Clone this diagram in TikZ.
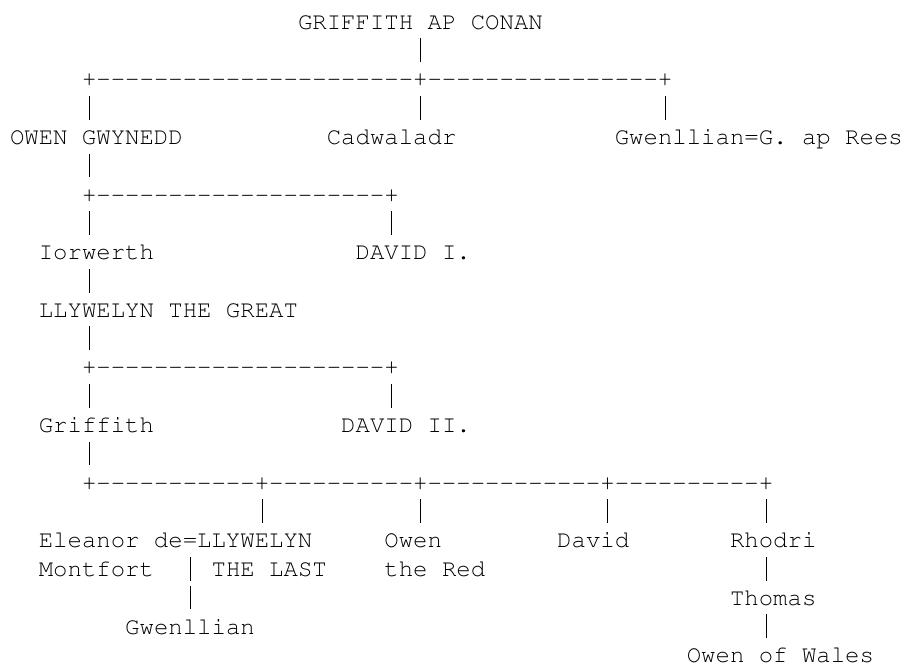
\documentclass[tikz,border=0pt]{standalone}
\usepackage[T1]{fontenc}
\usepackage{courier}
\ExplSyntaxOn
\NewDocumentCommand\dashrun{m}{\prg_replicate:nn{#1}{-{}}}
\ExplSyntaxOff
\newcommand\vbarglyph{\makebox[14.4pt]{\rule[-4pt]{0.85pt}{23.8pt}}}
\tikzset{
  txt/.style={anchor=base west, inner sep=0pt, outer sep=0pt, text depth=0pt,
    font=\ttfamily\fontsize{24pt}{28.8pt}\selectfont, text=black},
}
\begin{document}
\begin{tikzpicture}
\fill[white] (0,0) rectangle (906pt,-664pt);
\useasboundingbox (0,0) rectangle (906pt,-664pt);
\begin{scope}[shift={(10pt,-29.3pt)}, x=14.4pt, y=-28.8pt]
\node[txt] (gac) at (20,0) {GRIFFITH AP CONAN};
\node[txt] (v1) at (28,1) {\vbarglyph};
\node[txt] (h1) at (5,2) {+\dashrun{22}+\dashrun{16}+};
\node[txt] (v2a) at (5,3) {\vbarglyph};
\node[txt] (v2b) at (28,3) {\vbarglyph};
\node[txt] (v2c) at (45,3) {\vbarglyph};
\node[txt] (owen) at (0,4) {OWEN GWYNEDD};
\node[txt] (cadw) at (22,4) {Cadwaladr};
\node[txt] (gwen1) at (42,4) {Gwenllian=G. ap Rees};
\node[txt] (v3) at (5,5) {\vbarglyph};
\node[txt] (h2) at (5,6) {+\dashrun{20}+};
\node[txt] (v4a) at (5,7) {\vbarglyph};
\node[txt] (v4b) at (26,7) {\vbarglyph};
\node[txt] (iorw) at (2,8) {Iorwerth};
\node[txt] (david1) at (24,8) {DAVID I.};
\node[txt] (v5) at (5,9) {\vbarglyph};
\node[txt] (llyg) at (2,10) {LLYWELYN THE GREAT};
\node[txt] (v6) at (5,11) {\vbarglyph};
\node[txt] (h3) at (5,12) {+\dashrun{20}+};
\node[txt] (v7a) at (5,13) {\vbarglyph};
\node[txt] (v7b) at (26,13) {\vbarglyph};
\node[txt] (griff) at (2,14) {Griffith};
\node[txt] (david2) at (23,14) {DAVID II.};
\node[txt] (v8) at (5,15) {\vbarglyph};
\node[txt] (h4) at (5,16) {+\dashrun{11}+\dashrun{10}+\dashrun{12}+\dashrun{10}+};
\node[txt] (v9a) at (17,17) {\vbarglyph};
\node[txt] (v9b) at (28,17) {\vbarglyph};
\node[txt] (v9c) at (41,17) {\vbarglyph};
\node[txt] (v9d) at (52,17) {\vbarglyph};
\node[txt] (llyl) at (2,18) {Eleanor de=LLYWELYN};
\node[txt] (owenr) at (26,18) {Owen};
\node[txt] (david3) at (38,18) {David};
\node[txt] (rhod) at (50,18) {Rhodri};
\node[txt] (mont) at (2,19) {Montfort};
\node[txt] (v10a) at (12,19) {\vbarglyph};
\node[txt] (last) at (14,19) {THE LAST};
\node[txt] (red) at (26,19) {the Red};
\node[txt] (v10b) at (52,19) {\vbarglyph};
\node[txt] (v11) at (12,20) {\vbarglyph};
\node[txt] (thom) at (50,20) {Thomas};
\node[txt] (gwen2) at (8,21) {Gwenllian};
\node[txt] (v12) at (52,21) {\vbarglyph};
\node[txt] (owenw) at (47,22) {Owen of Wales};
\end{scope}
\end{tikzpicture}
\end{document}
